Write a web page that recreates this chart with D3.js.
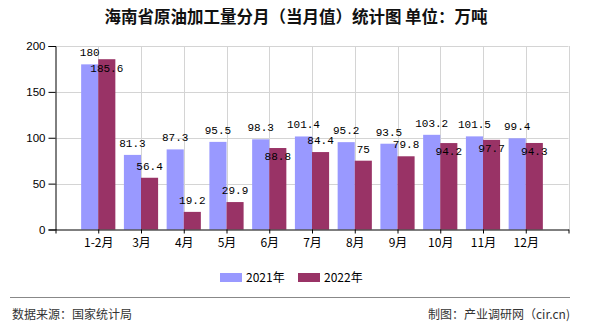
<!DOCTYPE html>
<html><head><meta charset="utf-8">
<script src="https://cdn.jsdelivr.net/npm/d3@7"></script>
<style>
html,body{margin:0;padding:0;background:#fff;}
svg{display:block;}
</style></head>
<body>
<svg id="chart" width="590" height="330"></svg>
<script>
const categories = ["1-2月","3月","4月","5月","6月","7月","8月","9月","10月","11月","12月"];
const series2021 = [180, 81.3, 87.3, 95.5, 98.3, 101.4, 95.2, 93.5, 103.2, 101.5, 99.4];
const series2022 = [185.6, 56.4, 19.2, 29.9, 88.8, 84.4, 75, 79.8, 94.2, 97.7, 94.3];
const seriesNames = ["2021年","2022年"];
const yTicks = [0, 50, 100, 150, 200];
const titleText = "海南省原油加工量分月（当月值）统计图 单位：万吨";
const sourceText = "数据来源：国家统计局";
const creditText = "制图：产业调研网（cir.cn)";

(function () {
const colors = ["#9999FF", "#993366"];
const svg = d3.select("#chart");
const pLeft = 55.5, pRight = 568.5, pTop = 46, pBottom = 229.5;
const cjk = "'Noto Sans CJK SC', sans-serif";
const mono = "'Liberation Mono', 'DejaVu Sans Mono', monospace";

const x = d3.scaleLinear().domain([0, categories.length + 1]).range([pLeft, pRight]);
const y = d3.scaleLinear().domain([0, 200]).range([pBottom, pTop]);
const step = x(1) - x(0);
const bw = step * 0.4;

// title
svg.append("text").attr("x", 296).attr("y", 17).attr("dy", "0.35em")
  .attr("text-anchor", "middle").attr("font-family", cjk).attr("font-size", 16.5)
  .attr("font-weight", "bold").attr("fill", "#111").text(titleText);

// grid
const grid = svg.append("g");
yTicks.filter(t => t > 0).forEach(t => {
  grid.append("line").attr("x1", pLeft).attr("x2", pRight)
    .attr("y1", Math.round(y(t)) + 0.5).attr("y2", Math.round(y(t)) + 0.5)
    .attr("stroke", "#d4d4d4").attr("stroke-width", 1);
});
d3.range(1, categories.length + 2).forEach(i => {
  grid.append("line").attr("x1", Math.round(x(i)) + 0.5).attr("x2", Math.round(x(i)) + 0.5)
    .attr("y1", pTop).attr("y2", pBottom)
    .attr("stroke", "#d4d4d4").attr("stroke-width", 1);
});

// bars
const gBars = svg.append("g");
categories.forEach((c, i) => {
  const cx = x(i + 1);
  gBars.append("rect").attr("x", cx - bw).attr("width", bw)
    .attr("y", y(series2021[i])).attr("height", pBottom - y(series2021[i]))
    .attr("fill", colors[0]);
  gBars.append("rect").attr("x", cx).attr("width", bw)
    .attr("y", y(series2022[i])).attr("height", pBottom - y(series2022[i]))
    .attr("fill", colors[1]);
});

// axes
const yAxis = d3.axisLeft(y).tickValues(yTicks).tickSize(7).tickPadding(3);
const gy = svg.append("g").attr("transform", `translate(${pLeft},0)`).call(yAxis);
gy.selectAll("text").attr("font-family", "'Liberation Sans', Arial, sans-serif").attr("font-size", 11.5).attr("fill", "#000");
gy.selectAll("line,path").attr("stroke", "#000");

const xAxis = d3.axisBottom(x).tickValues(d3.range(0, categories.length + 2))
  .tickSize(4).tickSizeOuter(0).tickPadding(5)
  .tickFormat(v => categories[v - 1] || "");
const gx = svg.append("g").attr("transform", `translate(0,${pBottom})`).call(xAxis);
gx.selectAll("text").attr("font-family", cjk).attr("font-size", 12).attr("fill", "#000");
gx.selectAll("line,path").attr("stroke", "#000");

// labels
const gl = svg.append("g").attr("font-family", mono).attr("font-size", 11).attr("fill", "#000").attr("text-anchor", "middle");
categories.forEach((c, i) => {
  const cx = x(i + 1);
  const blueC = y(series2021[i]) - 12;
  let redC = y(series2022[i]) - 12;
  if (Math.abs(redC - blueC) < 12) redC = y(series2022[i]) + 8.5;
  gl.append("text").attr("x", cx - bw / 2).attr("y", blueC).attr("dy", "0.35em").text(series2021[i]);
  gl.append("text").attr("x", cx + bw / 2).attr("y", redC).attr("dy", "0.35em").text(series2022[i]);
});

// legend
const lg = svg.append("g");
const legX = [220, 298];
seriesNames.forEach((n, k) => {
  lg.append("rect").attr("x", legX[k]).attr("y", 273).attr("width", 22).attr("height", 9).attr("fill", colors[k]);
  lg.append("text").attr("x", legX[k] + 26).attr("y", 277.5).attr("dy", "0.35em")
    .attr("font-family", cjk).attr("font-size", 12).attr("fill", "#000").text(n);
});

// footer
svg.append("line").attr("x1", 10).attr("x2", 570).attr("y1", 297.5).attr("y2", 297.5)
  .attr("stroke", "#888").attr("stroke-width", 1);
svg.append("text").attr("x", 12).attr("y", 315).attr("dy", "0.35em")
  .attr("font-family", cjk).attr("font-size", 12).attr("fill", "#333").text(sourceText);
svg.append("text").attr("x", 570).attr("y", 315).attr("dy", "0.35em").attr("text-anchor", "end")
  .attr("font-family", cjk).attr("font-size", 12).attr("fill", "#333").text(creditText);
})();
</script>
</body></html>
